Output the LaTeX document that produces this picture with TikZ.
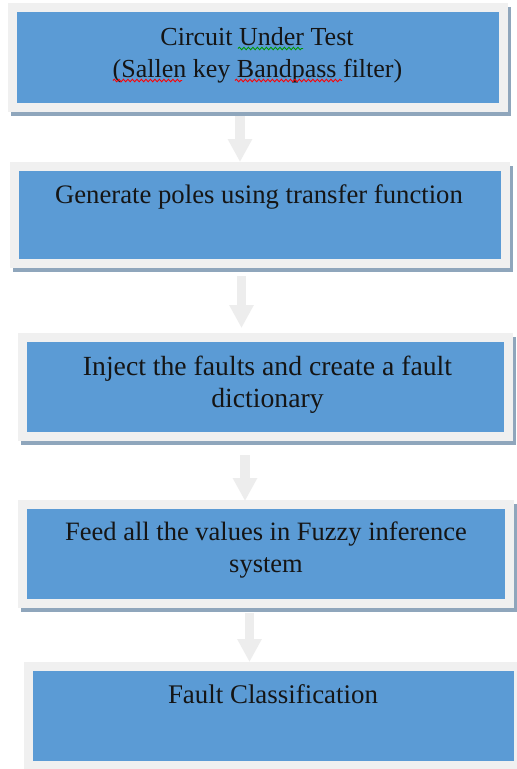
\documentclass[tikz,border=0pt]{standalone}
\usepackage{fontspec}
\setmainfont{Liberation Serif}
\usetikzlibrary{arrows.meta,calc,decorations.pathmorphing}
\definecolor{boxblue}{HTML}{5B9BD5}
\definecolor{framegray}{HTML}{F0F0F0}
\definecolor{shadowc}{HTML}{8FA6BC}
\definecolor{arrowgray}{HTML}{EDEDED}
\definecolor{textc}{HTML}{151515}
\pgfdeclarelayer{background}
\pgfsetlayers{background,main}
\begin{document}
\begin{tikzpicture}[x=1pt,y=-1pt,
  stage/.style={rectangle, fill=boxblue, draw=framegray, line width=9pt, inner sep=0pt, outer sep=4.5pt},
  txtline/.style={anchor=base, inner sep=0pt, text=textc, font=\fontsize{26.5}{32}\selectfont},
  flow/.style={draw=arrowgray, line width=9.5pt, -{Triangle[width=23pt,length=23pt]}},
  squig/.style={decorate, decoration={snake, amplitude=1.3pt, segment length=4.5pt}, line width=0.85pt},
]
\clip (0,0) rectangle (517,769);

% boxes
\node[stage, minimum width=491pt, minimum height=100pt] (b1) at (258,57.5) {};
\node[stage, minimum width=491pt, minimum height=97pt] (b2) at (260,215) {};
\node[stage, minimum width=486pt, minimum height=99pt] (b3) at (265.5,387) {};
\node[stage, minimum width=487pt, minimum height=99pt] (b4) at (266,554) {};
\node[stage, minimum width=490pt, minimum height=99pt] (b5) at (273.5,716) {};

% shadows and background
\begin{pgfonlayer}{background}
  \fill[white] (0,0) rectangle (517,769);
  \foreach \b in {b1,b2,b3,b4,b5}{
    \fill[shadowc] ([shift={(3,4)}]\b.north west) rectangle ([shift={(3,4)}]\b.south east);
  }
\end{pgfonlayer}

% texts
\node[txtline, font=\fontsize{26}{32}\selectfont] (t1a) at (257,45) {Circuit Under Test};
\node[txtline, font=\fontsize{26}{32}\selectfont] (t1b) at (257.5,77) {(Sallen key Bandpass filter)};
\node[txtline, font=\fontsize{26.7}{32}\selectfont] (t2) at (259,203) {Generate poles using transfer function};
\node[txtline, font=\fontsize{27.7}{32}\selectfont] (t3a) at (267.5,375) {Inject the faults and create a fault};
\node[txtline, font=\fontsize{27.7}{32}\selectfont] (t3b) at (267.5,407) {dictionary};
\node[txtline] (t4a) at (266,540) {Feed all the values in Fuzzy inference};
\node[txtline] (t4b) at (266,572) {system};
\node[txtline, font=\fontsize{26.9}{32}\selectfont] (t5) at (273,703) {Fault Classification};

% spell-check marks
\draw[squig, green!60!black] (238,48.5) -- (303,48.5);
\draw[squig, red] (113,80.5) -- (182,80.5);
\draw[squig, red] (235,80.5) -- (342,80.5);

% arrows
\coordinate (ax1) at (240,0);
\coordinate (ax2) at (241.5,0);
\coordinate (ax3) at (245,0);
\coordinate (ax4) at (249.5,0);
\draw[flow] ($(ax1 |- b1.south)+(0,4)$) -- (ax1 |- b2.north);
\draw[flow] ($(ax2 |- b2.south)+(0,8)$) -- ($(ax2 |- b3.north)+(0,-5)$);
\draw[flow] ($(ax3 |- b3.south)+(0,14)$) -- ($(ax3 |- b4.north)+(0,1)$);
\draw[flow] ($(ax4 |- b4.south)+(0,5)$) -- (ax4 |- b5.north);
\end{tikzpicture}
\end{document}
